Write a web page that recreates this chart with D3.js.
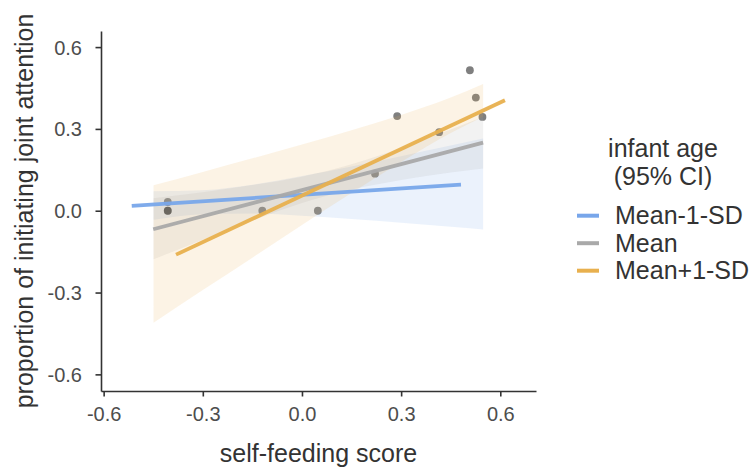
<!DOCTYPE html>
<html>
<head>
<meta charset="utf-8">
<script src="https://cdn.jsdelivr.net/npm/d3@7"></script>
<style>
  html, body { margin: 0; padding: 0; background: #fff; }
  svg { display: block; font-family: "Liberation Sans", Arial, Helvetica, sans-serif; }
</style>
</head>
<body>
<svg id="chart" width="753" height="467"></svg>
<script>
// ---------- data ----------
const groups = ["Mean-1-SD", "Mean", "Mean+1-SD"];
const groupColors = ["#78a6ea", "#a9a9a9", "#e8b04e"];

// observed points (self-feeding score, proportion of IJA)
const pointX = [-0.406, -0.406, -0.406, -0.120, 0.048, 0.221, 0.288, 0.415, 0.508, 0.526, 0.546];
const pointY = [0.032, 0.0, 0.0, 0.0, 0.0, 0.136, 0.347, 0.288, 0.515, 0.415, 0.344];

// fitted simple-slope lines: [x start, x end], [y start, y end]
const lineXMinus = [-0.515, 0.481];
const lineYMinus = [0.018, 0.096];
const lineXMean  = [-0.450, 0.548];
const lineYMean  = [-0.068, 0.250];
const lineXPlus  = [-0.381, 0.614];
const lineYPlus  = [-0.161, 0.405];

// 95% CI ribbons
const ribbonX = [-0.449, -0.3, -0.15, 0.0, 0.15, 0.3, 0.45, 0.548];
const lowerMinus = [-0.033, -0.013, -0.010, -0.018, -0.030, -0.044, -0.059, -0.069];
const upperMinus = [0.071, 0.075, 0.095, 0.127, 0.162, 0.200, 0.239, 0.265];
const lowerMean  = [-0.178, -0.106, -0.036, 0.028, 0.078, 0.113, 0.140, 0.155];
const upperMean  = [0.046, 0.068, 0.094, 0.125, 0.170, 0.230, 0.298, 0.345];
const lowerPlus  = [-0.411, -0.291, -0.172, -0.052, 0.065, 0.179, 0.285, 0.345];
const upperPlus  = [0.093, 0.142, 0.192, 0.243, 0.295, 0.351, 0.415, 0.465];

const xTicks = [-0.6, -0.3, 0.0, 0.3, 0.6];
const yTicks = [-0.6, -0.3, 0.0, 0.3, 0.6];
const xTitle = "self-feeding score";
const yTitle = "proportion of initiating joint attention";
const legendTitle = ["infant age", "(95% CI)"];

// ---------- layout ----------
const svg = d3.select("#chart");
const panel = { left: 101, right: 536, top: 31, bottom: 391 };

const x = d3.scaleLinear().domain([-0.608, 0.708]).range([panel.left, panel.right]);
const y = d3.scaleLinear().domain([-0.661, 0.659]).range([panel.bottom, panel.top]);

const ribbons = [
  { lo: lowerMinus, hi: upperMinus, color: groupColors[0] },
  { lo: lowerMean,  hi: upperMean,  color: groupColors[1] },
  { lo: lowerPlus,  hi: upperPlus,  color: groupColors[2] }
];
const lines = [
  { xs: lineXMinus, ys: lineYMinus, color: groupColors[0] },
  { xs: lineXMean,  ys: lineYMean,  color: groupColors[1] },
  { xs: lineXPlus,  ys: lineYPlus,  color: groupColors[2] }
];

// points (drawn beneath ribbons)
svg.append("g").selectAll("circle")
  .data(pointX.map((d, i) => [d, pointY[i]]))
  .join("circle")
  .attr("cx", d => x(d[0]))
  .attr("cy", d => y(d[1]))
  .attr("r", 3.9)
  .attr("fill", "#000")
  .attr("fill-opacity", 0.5);

// ribbons
const area = d3.area()
  .x(d => x(d.x))
  .y0(d => y(d.lo))
  .y1(d => y(d.hi))
  .curve(d3.curveMonotoneX);

svg.append("g").selectAll("path")
  .data(ribbons)
  .join("path")
  .attr("d", r => area(ribbonX.map((xx, i) => ({ x: xx, lo: r.lo[i], hi: r.hi[i] }))))
  .attr("fill", r => r.color)
  .attr("fill-opacity", 0.15)
  .attr("stroke", "none");

// fitted lines
const lineGen = d3.line().x(d => x(d[0])).y(d => y(d[1]));
svg.append("g").selectAll("path")
  .data(lines)
  .join("path")
  .attr("d", l => lineGen(l.xs.map((xx, i) => [xx, l.ys[i]])))
  .attr("fill", "none")
  .attr("stroke", l => l.color)
  .attr("stroke-width", 3.8)
  .attr("stroke-opacity", 0.95);

// axes
const fmt = d => d.toFixed(1);
const xAxis = svg.append("g")
  .attr("transform", `translate(0,${panel.bottom})`)
  .call(d3.axisBottom(x).tickValues(xTicks).tickFormat(fmt).tickSize(5.5).tickSizeOuter(0));
const yAxis = svg.append("g")
  .attr("transform", `translate(${panel.left},0)`)
  .call(d3.axisLeft(y).tickValues(yTicks).tickFormat(fmt).tickSize(5.5).tickSizeOuter(0));

[xAxis, yAxis].forEach(ax => {
  ax.select(".domain").attr("stroke", "#333").attr("stroke-width", 1.6);
  ax.selectAll(".tick line").attr("stroke", "#333").attr("stroke-width", 1.6);
  ax.selectAll(".tick text")
    .attr("fill", "#4d4d4d")
    .style("font-size", "20px")
    .style("font-family", "'Liberation Sans', Arial, sans-serif");
});
xAxis.selectAll(".tick text").attr("y", 16).attr("dy", "0.71em");
yAxis.selectAll(".tick text").attr("x", -19).attr("dy", "0.35em");

// axis titles
svg.append("text")
  .attr("x", (panel.left + panel.right) / 2)
  .attr("y", 461.5)
  .attr("text-anchor", "middle")
  .attr("fill", "#333")
  .style("font-size", "25px")
  .text(xTitle);

svg.append("text")
  .attr("transform", `translate(33,${(panel.top + panel.bottom) / 2}) rotate(-90)`)
  .attr("text-anchor", "middle")
  .attr("fill", "#333")
  .style("font-size", "25px")
  .text(yTitle);

// legend
const lg = svg.append("g");
lg.selectAll("text.title")
  .data(legendTitle)
  .join("text")
  .attr("class", "title")
  .attr("x", 663)
  .attr("y", (d, i) => 156.7 + i * 28.3)
  .attr("text-anchor", "middle")
  .attr("fill", "#333")
  .style("font-size", "25px")
  .text(d => d);

const keys = lg.selectAll("g.key")
  .data(groups)
  .join("g")
  .attr("class", "key")
  .attr("transform", (d, i) => `translate(0,${215.7 + i * 27.5})`);
keys.append("line")
  .attr("x1", 577).attr("x2", 599)
  .attr("y1", 0).attr("y2", 0)
  .attr("stroke", (d, i) => groupColors[i])
  .attr("stroke-width", 4);
keys.append("text")
  .attr("x", 615)
  .attr("y", 8.4)
  .attr("fill", "#333")
  .style("font-size", "25px")
  .text(d => d);
</script>
</body>
</html>
